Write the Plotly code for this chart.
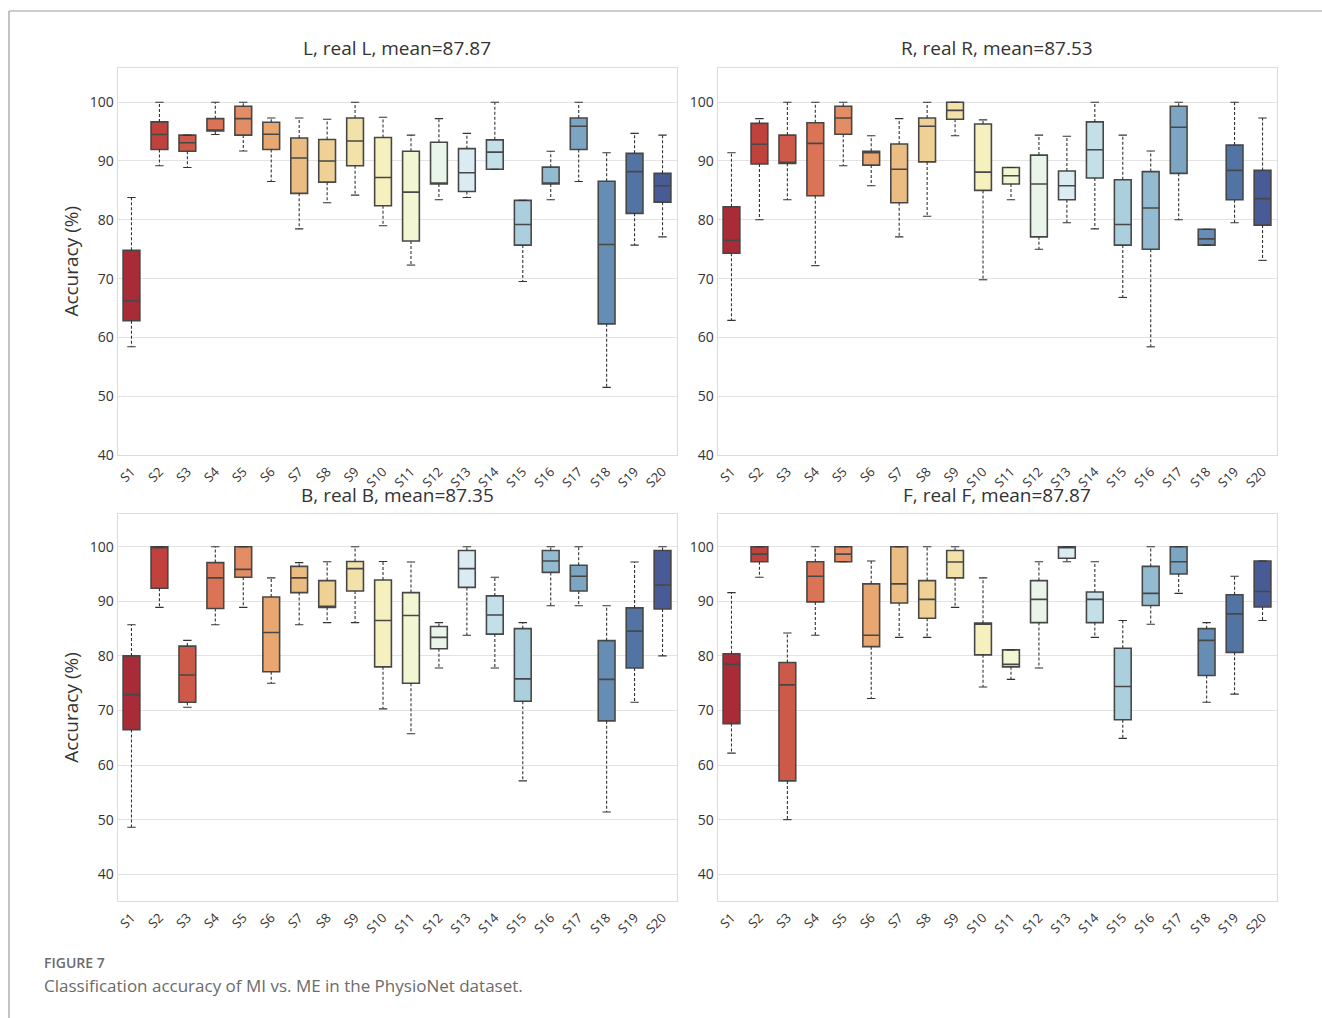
import plotly.graph_objects as go
import colorsys

subjects = [f"S{i}" for i in range(1, 21)]

# ---- Panel L ----
L_low = [58.4, 89.2, 88.9, 94.5, 91.7, 86.5, 78.45, 82.9, 84.2, 79.0, 72.3, 83.4, 83.8, 88.6, 69.5, 83.4, 86.5, 51.5, 75.7, 77.1]
L_q1 = [62.85, 91.95, 91.65, 95.1, 94.4, 91.95, 84.5, 86.4, 89.2, 82.4, 76.4, 86.1, 84.8, 88.6, 75.7, 86.1, 91.95, 62.3, 81.1, 83.0]
L_med = [66.25, 94.5, 93.1, 95.1, 97.2, 94.55, 90.5, 90.0, 93.4, 87.2, 84.7, 86.1, 88.0, 91.5, 79.2, 86.1, 95.9, 75.8, 88.2, 85.8]
L_q3 = [74.8, 96.65, 94.4, 97.2, 99.3, 96.6, 93.9, 93.65, 97.3, 94.0, 91.65, 93.2, 92.1, 93.6, 83.3, 88.95, 97.3, 86.55, 91.3, 87.9]
L_up = [83.8, 100.0, 94.4, 100.0, 100.0, 97.3, 97.3, 97.1, 100.0, 97.45, 94.4, 97.2, 94.7, 100.0, 83.3, 91.65, 100.0, 91.4, 94.7, 94.4]

# ---- Panel R ----
R_low = [62.9, 80.0, 83.4, 72.2, 89.2, 85.8, 77.1, 80.6, 94.3, 69.8, 83.4, 75.0, 79.5, 78.45, 66.8, 58.4, 80.0, 75.7, 79.5, 73.1]
R_q1 = [74.3, 89.5, 89.6, 84.1, 94.55, 89.3, 82.9, 89.85, 97.1, 85.0, 86.1, 77.1, 83.4, 87.1, 75.7, 75.0, 87.9, 75.7, 83.4, 79.1]
R_med = [76.5, 92.85, 89.6, 93.0, 97.3, 91.4, 88.6, 95.9, 98.6, 88.1, 87.5, 86.1, 85.8, 91.9, 79.2, 82.0, 95.75, 76.75, 88.4, 83.6]
R_q3 = [82.2, 96.4, 94.4, 96.5, 99.3, 91.65, 92.9, 97.3, 100.0, 96.3, 88.9, 91.0, 88.3, 96.65, 86.8, 88.2, 99.3, 78.4, 92.7, 88.4]
R_up = [91.4, 97.2, 100.0, 100.0, 100.0, 94.3, 97.2, 100.0, 100.0, 97.0, 88.9, 94.4, 94.2, 100.0, 94.4, 91.7, 100.0, 78.4, 100.0, 97.3]

# ---- Panel B ----
B_low = [48.6, 88.9, 70.6, 85.7, 88.9, 75.0, 85.7, 86.1, 86.1, 70.3, 65.75, 77.8, 83.8, 77.8, 57.1, 89.2, 89.2, 51.4, 71.5, 80.0]
B_q1 = [66.5, 92.4, 71.5, 88.7, 94.4, 77.1, 91.6, 88.9, 91.9, 78.0, 75.0, 81.3, 92.55, 84.0, 71.7, 95.3, 91.9, 68.1, 77.8, 88.6]
B_med = [72.9, 100.0, 76.5, 94.3, 95.85, 84.3, 94.3, 88.9, 96.0, 86.5, 87.4, 83.4, 96.0, 87.5, 75.8, 97.4, 94.6, 75.7, 84.55, 93.0]
B_q3 = [80.0, 100.0, 81.8, 97.1, 100.0, 90.8, 96.4, 93.8, 97.3, 93.9, 91.6, 85.4, 99.3, 91.0, 85.0, 99.3, 96.6, 82.8, 88.8, 99.3]
B_up = [85.7, 100.0, 82.85, 100.0, 100.0, 94.3, 97.1, 97.25, 100.0, 97.3, 97.2, 86.1, 100.0, 94.4, 86.1, 100.0, 100.0, 89.2, 97.2, 100.0]

# ---- Panel F ----
F_low = [62.2, 94.4, 50.0, 83.8, 97.25, 72.2, 83.4, 83.4, 88.9, 74.3, 75.7, 77.8, 97.25, 83.4, 64.9, 85.8, 91.45, 71.5, 73.0, 86.5]
F_q1 = [67.6, 97.25, 57.1, 89.9, 97.25, 81.7, 89.7, 86.9, 94.3, 80.2, 78.0, 86.1, 97.9, 86.1, 68.3, 89.25, 95.0, 76.4, 80.65, 88.95]
F_med = [78.45, 98.65, 74.7, 94.6, 98.65, 83.8, 93.2, 90.35, 97.2, 85.8, 78.45, 90.35, 100.0, 90.35, 74.4, 91.45, 97.25, 82.85, 87.7, 91.8]
F_q3 = [80.4, 100.0, 78.8, 97.25, 100.0, 93.2, 100.0, 93.8, 99.3, 86.0, 81.1, 93.8, 100.0, 91.7, 81.4, 96.4, 100.0, 85.0, 91.2, 97.4]
F_up = [91.6, 100.0, 84.2, 100.0, 100.0, 97.4, 100.0, 100.0, 100.0, 94.3, 81.1, 97.25, 100.0, 97.25, 86.5, 100.0, 100.0, 86.1, 94.6, 97.4]

titles = ["L, real L, mean=87.87", "R, real R, mean=87.53", "B, real B, mean=87.35", "F, real F, mean=87.87"]
y_ticks = [40, 50, 60, 70, 80, 90, 100]

# ---- colours: seaborn-like RdYlBu palette, desaturated ----
rdylbu = ["#a50026", "#d73027", "#f46d43", "#fdae61", "#fee090", "#ffffbf",
          "#e0f3f8", "#abd9e9", "#74add1", "#4575b4", "#313695"]


def hex2rgb(h):
    h = h.lstrip("#")
    return [int(h[i:i + 2], 16) / 255 for i in (0, 2, 4)]


def sample(t):
    n = len(rdylbu) - 1
    p = t * n
    i = min(int(p), n - 1)
    f = p - i
    a, b = hex2rgb(rdylbu[i]), hex2rgb(rdylbu[i + 1])
    return [a[k] + (b[k] - a[k]) * f for k in range(3)]


def desat(rgb, s=0.75):
    h, l, sat = colorsys.rgb_to_hls(*rgb)
    r, g, b = colorsys.hls_to_rgb(h, l, sat * s)
    return f"rgb({round(r*255)},{round(g*255)},{round(b*255)})"


colors = [desat(sample(i / 21)) for i in range(1, 21)]

W, H = 1322, 1018
px_x = [(117.5, 676.5), (717.5, 1276.5)]
px_y = [(67.5, 455.0), (514.0, 901.0)]
ranges = [[40, 105.9], [35.1, 106.0]]

panels = [
    (L_low, L_q1, L_med, L_q3, L_up),
    (R_low, R_q1, R_med, R_q3, R_up),
    (B_low, B_q1, B_med, B_q3, B_up),
    (F_low, F_q1, F_med, F_q3, F_up),
]

fig = go.Figure()
layout = {}
annotations = []
xs = list(range(len(subjects)))
box_half = 0.3
cap_half = 0.15
edge = "#474747"

for p, (low, q1, med, q3, up) in enumerate(panels):
    row, col = divmod(p, 2)
    k = "" if p == 0 else str(p + 1)
    xa, ya = "x" + k, "y" + k
    x0, x1 = px_x[col]
    y0, y1 = px_y[row]
    layout["xaxis" + k] = dict(
        domain=[x0 / W, x1 / W], anchor=ya, range=[-0.5, 19.5], automargin=False,
        tickmode="array", tickvals=xs, ticktext=subjects, tickangle=-45,
        showgrid=False, zeroline=False, showline=True, mirror=True,
        linecolor="#dcdcdc", linewidth=1, ticks="", ticklabelstandoff=3,
        tickfont=dict(size=13, color="#333333", family="Open Sans"),
    )
    layout["yaxis" + k] = dict(
        domain=[1 - y1 / H, 1 - y0 / H], anchor=xa, range=ranges[row], automargin=False,
        tickmode="array", tickvals=y_ticks, showgrid=True, gridcolor="#e3e3e3",
        gridwidth=1, zeroline=False, showline=True, mirror=True,
        linecolor="#dcdcdc", linewidth=1, ticks="",
        tickfont=dict(size=14, color="#333333", family="Open Sans"),
        title=dict(text="Accuracy (%)" if col == 0 else "",
                   font=dict(size=19, color="#333333", family="Open Sans"), standoff=6),
    )
    # whiskers (dashed)
    wx, wy = [], []
    cx, cy = [], []
    for i in xs:
        if up[i] > q3[i]:
            wx += [i, i, None]
            wy += [q3[i], up[i], None]
        if low[i] < q1[i]:
            wx += [i, i, None]
            wy += [q1[i], low[i], None]
        cx += [i - cap_half, i + cap_half, None, i - cap_half, i + cap_half, None]
        cy += [up[i], up[i], None, low[i], low[i], None]
    fig.add_trace(go.Scatter(x=wx, y=wy, mode="lines", xaxis=xa, yaxis=ya,
                             line=dict(color="#333333", width=1.1, dash="3px,2px"),
                             showlegend=False, hoverinfo="skip"))
    fig.add_trace(go.Scatter(x=cx, y=cy, mode="lines", xaxis=xa, yaxis=ya,
                             line=dict(color="#333333", width=1.1),
                             showlegend=False, hoverinfo="skip"))
    # boxes
    for i in xs:
        fig.add_trace(go.Box(
            x=[i], q1=[q1[i]], median=[med[i]], q3=[q3[i]],
            lowerfence=[q1[i]], upperfence=[q3[i]],
            xaxis=xa, yaxis=ya, width=2 * box_half, whiskerwidth=0,
            fillcolor=colors[i], line=dict(color=edge, width=1.6),
            showlegend=False, boxpoints=False, hoverinfo="y",
        ))
    annotations.append(dict(
        text=titles[p], xref="paper", yref="paper",
        x=(x0 + x1) / 2 / W, y=1 - (y0 - 4) / H, xanchor="center", yanchor="bottom",
        showarrow=False, font=dict(size=19, color="#333333", family="Open Sans"),
    ))

annotations.append(dict(text="FIGURE 7", xref="paper", yref="paper", x=42 / W, y=1 - 962 / H,
                        xanchor="left", yanchor="middle", showarrow=False,
                        font=dict(size=14, color="#6b6b6b", family="Open Sans", weight=600)))
annotations.append(dict(text="Classification accuracy of MI vs. ME in the PhysioNet dataset.",
                        xref="paper", yref="paper", x=42 / W, y=1 - 985 / H,
                        xanchor="left", yanchor="middle", showarrow=False,
                        font=dict(size=17, color="#6b6b6b", family="Open Sans")))

shapes = [
    dict(type="line", xref="paper", yref="paper", x0=9 / W, x1=1, y0=1 - 11 / H, y1=1 - 11 / H,
         line=dict(color="#9a9a9a", width=1.2)),
    dict(type="line", xref="paper", yref="paper", x0=9 / W, x1=9 / W, y0=0, y1=1 - 11 / H,
         line=dict(color="#9a9a9a", width=1.2)),
]

fig.update_layout(
    width=W, height=H, margin=dict(l=0, r=0, t=0, b=0, autoexpand=False),
    paper_bgcolor="white", plot_bgcolor="white",
    annotations=annotations, shapes=shapes, showlegend=False,
    font=dict(family="Open Sans", color="#333333"),
    **layout,
)

fig.write_html("out.html")
